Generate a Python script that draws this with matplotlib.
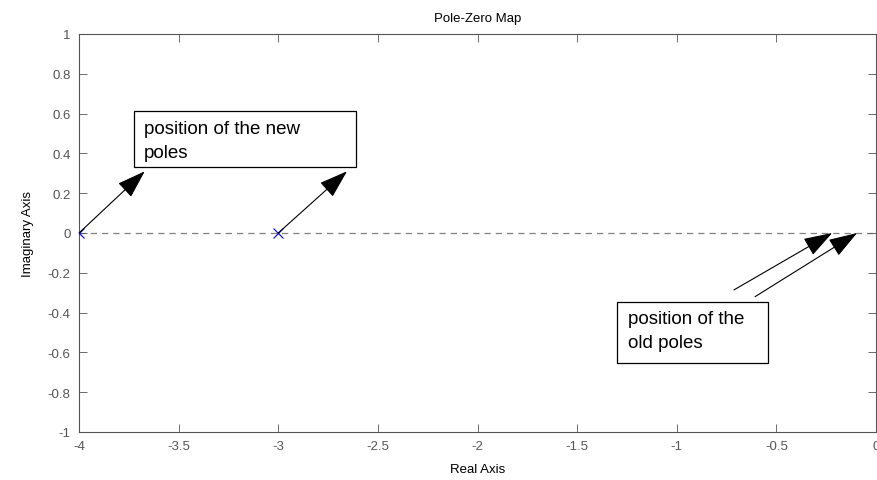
import matplotlib.pyplot as plt
from matplotlib.patches import Rectangle

plt.rcParams['font.family'] = ['Liberation Sans', 'DejaVu Sans']

# -----------------------------
# DATA
# -----------------------------
new_poles_re = [-4.0, -3.0]
new_poles_im = [0.0, 0.0]
old_poles_re = [-0.22, -0.095]

xticks = [-4, -3.5, -3, -2.5, -2, -1.5, -1, -0.5, 0]
xtick_labels = ["-4", "-3.5", "-3", "-2.5", "-2", "-1.5", "-1", "-0.5", "0"]
yticks = [-1, -0.8, -0.6, -0.4, -0.2, 0, 0.2, 0.4, 0.6, 0.8, 1]
ytick_labels = ["-1", "-0.8", "-0.6", "-0.4", "-0.2", "0", "0.2", "0.4", "0.6", "0.8", "1"]

# annotation arrows (data coords)
new_arrow_tips = [(-3.67, 0.31), (-2.655, 0.31)]
old_arrow_tails = [(-0.713, -0.286), (-0.607, -0.32)]

# -----------------------------
# PLOT
# -----------------------------
fig = plt.figure(figsize=(8.77, 4.81), dpi=100)
ax = fig.add_axes([79 / 877, 48 / 481, 797 / 877, 398 / 481])

grey = '#555555'
ax.axhline(0, color='#808080', linestyle=(0, (5, 4)), lw=0.9, zorder=1)
ax.plot(new_poles_re, new_poles_im, 'x', color='#0000ff', ms=7, mew=0.8, zorder=3)

ax.set_xlim(-4, 0)
ax.set_ylim(-1, 1)
ax.set_xticks(xticks)
ax.set_xticklabels(xtick_labels)
ax.set_yticks(yticks)
ax.set_yticklabels(ytick_labels)
ax.tick_params(direction='in', length=6, width=0.6, colors=grey, labelsize=9.5,
               top=True, right=True, pad=6)
for s in ax.spines.values():
    s.set_color(grey)
    s.set_linewidth(0.8)

ax.set_title("Pole-Zero Map", fontsize=9.5, pad=9)
ax.set_xlabel("Real Axis", fontsize=9.5, labelpad=8)
ax.set_ylabel("Imaginary Axis", fontsize=9.5, labelpad=10)

arrow = dict(arrowstyle='-|>,head_length=0.9,head_width=0.3', mutation_scale=20,
             lw=0.8, color='k', shrinkA=0, shrinkB=0)
for (x0, y0), tip in zip(zip(new_poles_re, new_poles_im), new_arrow_tips):
    ax.annotate("", xy=tip, xytext=(x0, y0), arrowprops=arrow, zorder=4)
for xr, tail in zip(old_poles_re, old_arrow_tails):
    ax.annotate("", xy=(xr, 0), xytext=tail, arrowprops=arrow, zorder=4)

# text boxes
ax.add_patch(Rectangle((-3.724, 0.332), 1.114, 0.281, fc='white', ec='black',
                       lw=0.9, zorder=5))
ax.text(-3.674, 0.465, "position of the new\npoles", fontsize=13.5, va='center',
        ha='left', linespacing=1.55, zorder=6)
ax.add_patch(Rectangle((-1.300, -0.653), 0.758, 0.306, fc='white', ec='black',
                       lw=0.9, zorder=5))
ax.text(-1.245, -0.49, "position of the\nold poles", fontsize=13.5, va='center',
        ha='left', linespacing=1.55, zorder=6)

plt.savefig("out.png", dpi=100)
